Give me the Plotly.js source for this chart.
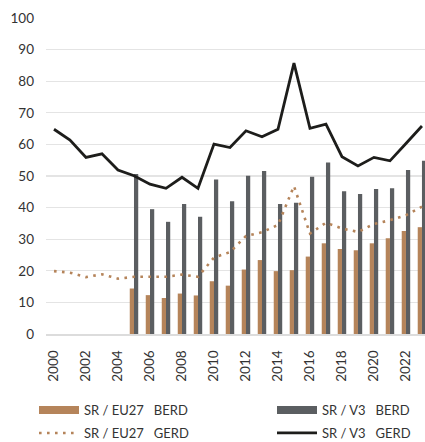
<!DOCTYPE html>
<html>
<head>
<meta charset="utf-8">
<script src="https://cdn.plot.ly/plotly-3.0.1.min.js"></script>
<style>html,body{margin:0;padding:0;background:#fff;}#chart{width:425px;height:442px;}</style>
</head>
<body>
<div id="chart"></div>
<script>
const years = [2000,2001,2002,2003,2004,2005,2006,2007,2008,2009,2010,2011,2012,2013,2014,2015,2016,2017,2018,2019,2020,2021,2022,2023];
const berdYears = [2005,2006,2007,2008,2009,2010,2011,2012,2013,2014,2015,2016,2017,2018,2019,2020,2021,2022,2023];
const berdEU27 = [14.4,12.3,11.4,12.8,12.2,16.7,15.3,20.4,23.4,19.9,20.2,24.5,28.7,26.9,26.5,28.7,30.3,32.6,33.8];
const berdV3 = [50.6,39.5,35.5,41.1,37.1,48.9,42.0,50.1,51.6,41.1,41.5,49.8,54.3,45.2,44.3,45.9,46.1,51.9,54.8];
const gerdEU27 = [19.9,19.4,18.0,18.9,17.5,18.1,18.1,18.1,18.8,18.1,24.2,25.9,31.0,32.2,34.5,46.8,31.8,35.2,33.4,32.3,34.8,36.0,37.6,40.3];
const gerdV3 = [64.8,61.4,55.9,57.0,51.9,50.1,47.4,46.1,49.6,46.1,60.1,59.0,64.3,62.4,64.8,85.7,65.1,66.4,56.1,53.2,55.9,54.8,60.3,65.8];
const tickYears = [2000,2002,2004,2006,2008,2010,2012,2014,2016,2018,2020,2022];
const names = ['SR\u00a0/\u00a0EU27\u00a0\u00a0\u00a0BERD','SR\u00a0/\u00a0V3\u00a0\u00a0\u00a0BERD','SR\u00a0/\u00a0EU27\u00a0\u00a0\u00a0GERD','SR\u00a0/\u00a0V3\u00a0\u00a0\u00a0GERD'];

const brown = '#b5845a', grey = '#5b5e61', black = '#1d1d1b';
const font = 'Lato, "Open Sans", sans-serif';

const traces = [
  {type:'bar', x:berdYears, y:berdEU27, name:names[0], marker:{color:brown}, showlegend:false, hoverinfo:'y'},
  {type:'bar', x:berdYears, y:berdV3, name:names[1], marker:{color:grey}, showlegend:false, hoverinfo:'y'},
  {type:'scatter', mode:'lines', x:years, y:gerdEU27, name:names[2], line:{color:brown, width:2.6, dash:'2.6px,5.4px'}, legend:'legend3'},
  {type:'scatter', mode:'lines', x:years, y:gerdV3, name:names[3], line:{color:black, width:2.8}, legend:'legend4'},
  // legend proxies for bar series
  {type:'scatter', mode:'lines', x:[null], y:[null], name:names[0], line:{color:brown, width:8}, legend:'legend', hoverinfo:'skip'},
  {type:'scatter', mode:'lines', x:[null], y:[null], name:names[1], line:{color:grey, width:8}, legend:'legend2', hoverinfo:'skip'}
];

const legendCommon = {orientation:'h', font:{family:font, size:13, color:'#333'}, bgcolor:'rgba(0,0,0,0)',
  xref:'container', yref:'container', xanchor:'left', yanchor:'middle', itemwidth:40};
const row1 = (442-410)/442, row2 = (442-433)/442;
const col1 = 34/425, col2 = 272/425;

const layout = {
  width:425, height:442,
  margin:{l:46, r:0, t:18, b:108, autoexpand:false},
  paper_bgcolor:'#fff', plot_bgcolor:'#fff',
  font:{family:font, size:12, color:'#333'},
  barmode:'group', bargap:0.47, bargroupgap:0,
  showlegend:true,
  xaxis:{type:'linear', range:[1999.5, 2023.19], tickvals:tickYears, tickangle:-90, showgrid:false, zeroline:false, automargin:false,
         showline:true, linecolor:'#dcdcdc', linewidth:2, ticks:'', ticklabelstandoff:9, tickfont:{family:font, size:13.5, color:'#333'}, fixedrange:true},
  yaxis:{range:[0,100], tickvals:[0,10,20,30,40,50,60,70,80,90,100], showgrid:true, gridcolor:'#e4e4e4', gridwidth:1.2, zeroline:false, automargin:false,
         showline:false, ticks:'', ticklabelstandoff:11, tickfont:{family:font, size:13.5, color:'#333'}, fixedrange:true},
  legend:Object.assign({}, legendCommon, {x:col1, y:row1}),
  legend2:Object.assign({}, legendCommon, {x:col2, y:row1}),
  legend3:Object.assign({}, legendCommon, {x:col1, y:row2}),
  legend4:Object.assign({}, legendCommon, {x:col2, y:row2})
};

Plotly.newPlot('chart', traces, layout, {displayModeBar:false, staticPlot:true});
</script>
</body>
</html>
